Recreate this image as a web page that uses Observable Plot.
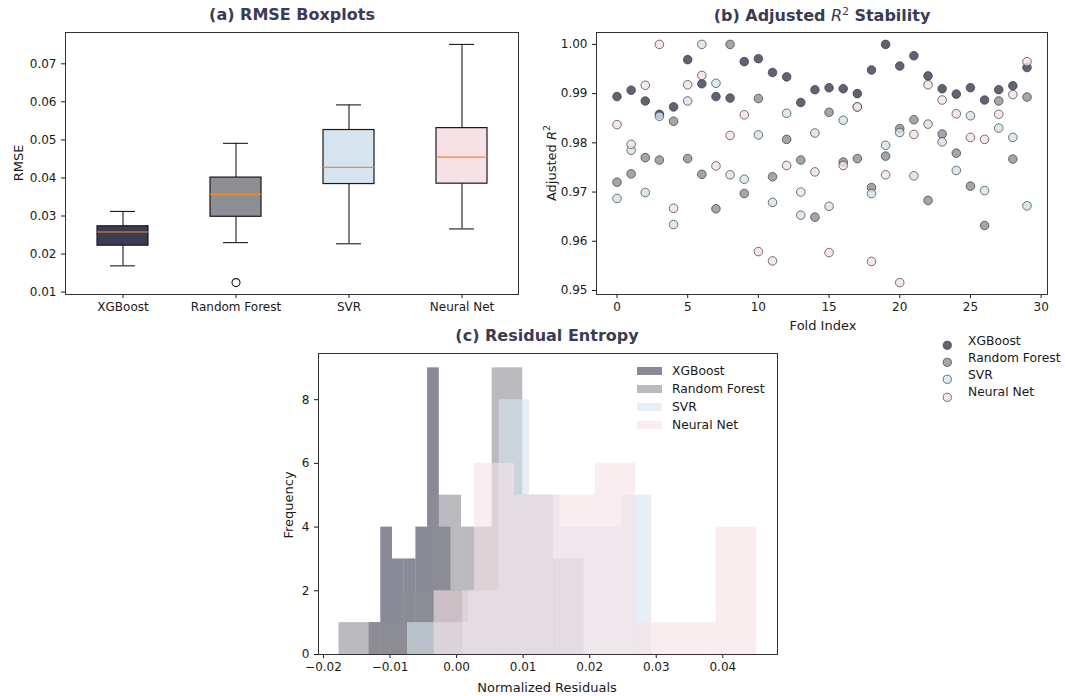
<!DOCTYPE html>
<html><head><meta charset="utf-8">
<script src="https://cdn.jsdelivr.net/npm/d3@7"></script>
<script src="https://cdn.jsdelivr.net/npm/@observablehq/plot@0.6"></script>
<style>
body{margin:0;background:#fff;}
#root{position:relative;width:1065px;height:696px;background:#fff;font-family:"DejaVu Sans",sans-serif;color:#1a1a1a;overflow:hidden}
.panel{position:absolute}
.t{position:absolute;white-space:nowrap;transform:translate(-50%,-50%);line-height:1}
.title{font-weight:bold;font-size:16px;color:#3b3b55}
.lab{font-size:13px}
.rot{transform:translate(-50%,-50%) rotate(-90deg)}
.leg{position:absolute;white-space:nowrap;font-size:12.3px;line-height:1;transform:translateY(-50%)}
</style></head><body><div id="root"></div>
<script>
// ---------- data ----------
const models = ["XGBoost", "Random Forest", "SVR", "Neural Net"];
const palette = ["#3b3b52", "#8e8e95", "#d5e4ee", "#f5e1e6"];

// (a) RMSE boxplot statistics
const whiskerLow  = [0.0169, 0.0230, 0.0227, 0.0266];
const q1          = [0.0222, 0.0298, 0.0384, 0.0385];
const median      = [0.0258, 0.0357, 0.0428, 0.0455];
const q3          = [0.0273, 0.0401, 0.0526, 0.0531];
const whiskerHigh = [0.0312, 0.0491, 0.0592, 0.0751];
const outlierModel = ["Random Forest"];
const outlierValue = [0.0125];
const rmseTicks = [0.01, 0.02, 0.03, 0.04, 0.05, 0.06, 0.07];

// (b) Adjusted R^2 per fold
const folds = [0,1,2,3,4,5,6,7,8,9,10,11,12,13,14,15,16,17,18,19,20,21,22,23,24,25,26,27,28,29];
const r2XGB = [0.9894,0.9907,0.9885,0.9858,0.9873,0.9969,0.9920,0.9894,0.9891,0.9965,0.9971,0.9943,0.9934,0.9882,0.9908,0.9912,0.9910,0.9900,0.9948,1.0000,0.9956,0.9977,0.9936,0.9910,0.9899,0.9912,0.9887,0.9908,0.9916,0.9953];
const r2RF  = [0.9720,0.9737,0.9770,0.9765,0.9844,0.9768,0.9736,0.9666,1.0000,0.9697,0.9890,0.9731,0.9807,0.9765,0.9649,0.9862,0.9761,0.9768,0.9709,0.9773,0.9829,0.9847,0.9683,0.9818,0.9779,0.9712,0.9632,0.9885,0.9767,0.9893];
const r2SVR = [0.9687,0.9785,0.9699,0.9854,0.9634,0.9885,1.0000,0.9921,0.9735,0.9726,0.9816,0.9679,0.9860,0.9653,0.9820,0.9671,0.9846,0.9873,0.9697,0.9795,0.9821,0.9733,0.9838,0.9802,0.9744,0.9855,0.9703,0.9830,0.9811,0.9672];
const r2NN  = [0.9837,0.9797,0.9917,1.0000,0.9667,0.9918,0.9937,0.9753,0.9815,0.9857,0.9579,0.9560,0.9754,0.9700,0.9741,0.9577,0.9754,0.9873,0.9559,0.9735,0.9516,0.9817,0.9918,0.9887,0.9859,0.9811,0.9807,0.9858,0.9898,0.9965];
const foldTicks = [0, 5, 10, 15, 20, 25, 30];
const r2Ticks = [0.95, 0.96, 0.97, 0.98, 0.99, 1.00];

// (c) Residual histograms (8 bins between lo and hi)
const histLo = [-0.01315, -0.01766, -0.00738, -0.00338];
const histHi = [0.00092, 0.01914, 0.02932, 0.04506];
const countsXGB = [1, 4, 3, 3, 4, 9, 4, 2];
const countsRF  = [1, 1, 2, 5, 4, 9, 5, 3];
const countsSVR = [1, 1, 2, 8, 5, 4, 4, 5];
const countsNN  = [2, 6, 5, 5, 6, 1, 1, 4];
const residTicks = [-0.02, -0.01, 0.00, 0.01, 0.02, 0.03, 0.04];
const freqTicks = [0, 2, 4, 6, 8];

// ---------- build ----------
const root = document.getElementById("root");
const baseStyle = {fontFamily: "DejaVu Sans", fontSize: "12px", color: "#1a1a1a", background: "transparent", overflow: "visible"};
function place(el, left, top) {
  const d = document.createElement("div");
  d.className = "panel"; d.style.left = left + "px"; d.style.top = top + "px";
  d.appendChild(el); root.appendChild(d);
}
function text(html, x, y, cls) {
  const d = document.createElement("div");
  d.className = "t " + cls; d.style.left = x + "px"; d.style.top = y + "px";
  d.innerHTML = html; root.appendChild(d);
}

// (a)
const boxData = models.map((m, i) => ({model: m, lo: whiskerLow[i], q1: q1[i], med: median[i], q3: q3[i], hi: whiskerHigh[i], color: palette[i]}));
const outliers = outlierModel.map((m, i) => ({model: m, value: outlierValue[i]}));
const plotA = Plot.plot({
  width: 530, height: 330, marginLeft: 65, marginRight: 12, marginTop: 32, marginBottom: 36,
  style: baseStyle,
  x: {type: "band", domain: models, padding: 0, label: null, tickSize: 4, tickPadding: 4},
  y: {domain: [0.00937, 0.07823], ticks: rmseTicks, tickFormat: d3.format(".2f"), label: null, tickSize: 4, tickPadding: 5},
  color: {type: "identity"},
  marks: [
    Plot.ruleX(boxData, {x: "model", y1: "lo", y2: "q1", stroke: "#1a1a1a", strokeWidth: 1.1}),
    Plot.ruleX(boxData, {x: "model", y1: "q3", y2: "hi", stroke: "#1a1a1a", strokeWidth: 1.1}),
    Plot.tickY(boxData, {x: "model", y: "lo", stroke: "#1a1a1a", strokeWidth: 1.1, insetLeft: 44, insetRight: 44}),
    Plot.tickY(boxData, {x: "model", y: "hi", stroke: "#1a1a1a", strokeWidth: 1.1, insetLeft: 44, insetRight: 44}),
    Plot.barY(boxData, {x: "model", y1: "q1", y2: "q3", fill: "color", stroke: "#1a1a1a", strokeWidth: 1.2, insetLeft: 31, insetRight: 31}),
    Plot.tickY(boxData, {x: "model", y: "med", stroke: "#f58a2c", strokeWidth: 1.2, insetLeft: 31, insetRight: 31}),
    Plot.dot(outliers, {x: "model", y: "value", r: 4, stroke: "#1a1a1a", strokeWidth: 1.1, fill: "none"}),
    Plot.frame({stroke: "#333"})
  ]
});
place(plotA, 0, 0);
text("(a) RMSE Boxplots", 292, 15, "title");
text("RMSE", 18, 163, "lab rot");

// (b)
const r2Series = [r2XGB, r2RF, r2SVR, r2NN];
const foldRows = [];
r2Series.forEach((vals, s) => folds.forEach((f, i) => foldRows.push({fold: f, value: vals[i], model: models[s]})));
const plotB = Plot.plot({
  width: 535, height: 340, marginLeft: 66, marginRight: 18, marginTop: 32, marginBottom: 46,
  style: baseStyle,
  x: {domain: [-1.45, 30.45], ticks: foldTicks, tickFormat: d3.format("d"), label: null, tickSize: 4, tickPadding: 4},
  y: {domain: [0.94918, 1.00242], ticks: r2Ticks, tickFormat: d3.format(".2f"), label: null, tickSize: 4, tickPadding: 5},
  color: {domain: models, range: palette},
  marks: [
    Plot.dot(foldRows, {x: "fold", y: "value", fill: "model", fillOpacity: 0.8, stroke: "#333", strokeOpacity: 0.75, strokeWidth: 0.9, r: 4.3}),
    Plot.frame({stroke: "#333"})
  ]
});
place(plotB, 530, 0);
text('(b) Adjusted <i style="font-weight:normal">R</i><sup style="font-weight:normal;font-size:10.5px">2</sup> Stability', 822, 15, "title");
text('Adjusted <i>R</i><sup style="font-size:9.5px">2</sup>', 550, 163, "lab rot");
text("Fold Index", 823, 325, "lab");

// legend (b)
models.forEach((m, i) => {
  const y = [340.5, 357.5, 374.5, 392][i];
  const sw = document.createElement("div");
  sw.style.cssText = `position:absolute;left:${947-4.3}px;top:${y-4.3}px;width:8.6px;height:8.6px;`;
  sw.innerHTML = `<svg width="10" height="10" style="overflow:visible"><circle cx="4.3" cy="4.3" r="4.1" fill="${palette[i]}" fill-opacity="0.8" stroke="#333" stroke-opacity="0.75" stroke-width="0.9"/></svg>`;
  root.appendChild(sw);
  const t = document.createElement("div");
  t.className = "leg"; t.style.left = "968px"; t.style.top = y + "px"; t.textContent = m;
  root.appendChild(t);
});

// (c)
const histCounts = [countsXGB, countsRF, countsSVR, countsNN];
const histRows = [];
histCounts.forEach((counts, s) => {
  const w = (histHi[s] - histLo[s]) / counts.length;
  counts.forEach((c, j) => histRows.push({model: models[s], x1: histLo[s] + j * w, x2: histLo[s] + (j + 1) * w, zero: 0, count: c}));
});
const plotC = Plot.plot({
  width: 520, height: 376, marginLeft: 48, marginRight: 13, marginTop: 33, marginBottom: 42,
  style: baseStyle,
  x: {domain: [-0.02075, 0.04822], ticks: residTicks, tickFormat: d3.format(".2f"), label: null, tickSize: 4, tickPadding: 4},
  y: {domain: [0, 9.45], ticks: freqTicks, tickFormat: d3.format("d"), label: null, tickSize: 4, tickPadding: 5},
  color: {domain: models, range: palette},
  marks: [
    Plot.rect(histRows, {x1: "x1", x2: "x2", y1: "zero", y2: "count", fill: "model", fillOpacity: 0.6, insetLeft: 0, insetRight: 0}),
    Plot.frame({stroke: "#333"})
  ]
});
place(plotC, 270, 320);
text("(c) Residual Entropy", 547, 336, "title");
text("Frequency", 288, 505, "lab rot");
text("Normalized Residuals", 547, 687, "lab");

// legend (c)
models.forEach((m, i) => {
  const y = [370.7, 389, 407.2, 425.4][i];
  const sw = document.createElement("div");
  sw.style.cssText = `position:absolute;left:637px;top:${y-4}px;width:25px;height:8px;background:${palette[i]};opacity:0.6;`;
  root.appendChild(sw);
  const t = document.createElement("div");
  t.className = "leg"; t.style.left = "672px"; t.style.top = y + "px"; t.textContent = m;
  root.appendChild(t);
});
</script></body></html>
